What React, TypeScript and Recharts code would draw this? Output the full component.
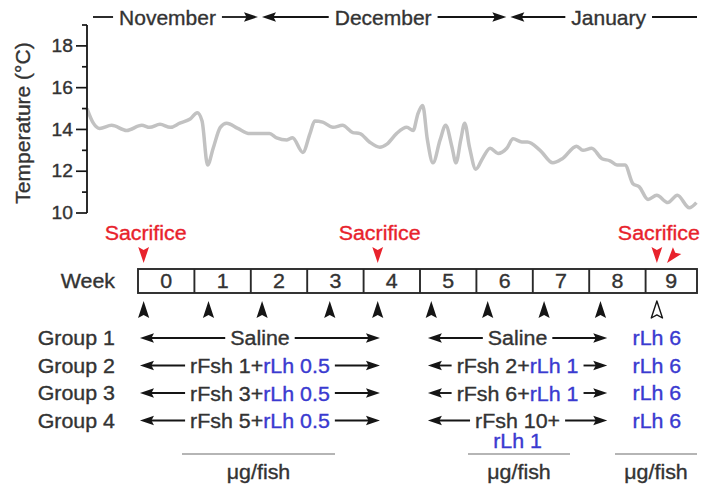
import { Line, LineChart, XAxis, YAxis } from "recharts";

// water temperature, day index from the first record
const dayNum = [
  0, 0.8, 1.6, 3.1, 5.0, 6.9, 7.9, 9.2, 10.5, 11.7, 13.0, 13.9, 14.5, 15.2, 15.9, 16.8, 17.6, 19.0,
  20.5, 23.0, 23.9, 25.2, 25.9, 27.2, 28.1, 28.7, 29.7, 31.0, 32.2, 33.5, 34.4, 35.6, 36.9, 37.8,
  39.0, 40.3, 41.1, 41.7, 42.3, 42.9, 43.6, 44.5, 45.2, 46.0, 46.5, 47.1, 47.6, 48.2, 49.0, 49.9,
  50.8, 51.8, 52.9, 53.7, 54.8, 55.5, 57.1, 58.7, 59.9, 61.7, 62.5, 63.6, 64.9, 65.9, 66.8, 67.8,
  68.8, 69.6, 70.7, 71.8, 73.2, 74.4, 75.9, 76.8,
];
const tempC = [
  15.0, 14.3, 14.05, 14.2, 13.95, 14.2, 14.1, 14.25, 14.1, 14.3, 14.5, 14.8, 14.4, 12.3, 13.1, 14.1,
  14.3, 14.05, 13.8, 13.8, 13.6, 13.5, 13.6, 12.9, 13.8, 14.4, 14.35, 14.1, 14.2, 13.85, 13.8, 13.4,
  13.15, 13.3, 13.8, 14.1, 13.95, 14.75, 15.15, 13.5, 12.4, 13.5, 14.2, 13.15, 12.4, 13.5, 14.3,
  13.15, 12.1, 12.65, 13.1, 12.85, 13.1, 13.55, 13.4, 13.4, 13.0, 12.4, 12.6, 13.2, 13.0, 13.1, 12.6,
  12.5, 12.3, 12.3, 11.4, 11.25, 10.65, 10.85, 10.5, 10.85, 10.25, 10.5,
];
const yTicks = [10, 11, 12, 13, 14, 15, 16, 17, 18, 19];

const months = ["November", "December", "January"];
const monthStartDays = [21.8, 53.1];

const weeks = [0, 1, 2, 3, 4, 5, 6, 7, 8, 9];
const injectionWeeks = [0.1, 1.25, 2.2, 3.4, 4.25, 5.2, 6.2, 7.2, 8.2, 9.2];
const sacrificeWeeks = [0.1, 4.25, 9.2];

const groups = ["Group 1", "Group 2", "Group 3", "Group 4"];
const fshFirst = [null, 1, 3, 5];
const lhFirst = [null, 0.5, 0.5, 0.5];
const fshSecond = [null, 2, 6, 10];
const lhSecond = [null, 1, 1, 1];
const lhFinal = [6, 6, 6, 6];

const data = dayNum.map((d, i) => ({ day: d, temp: tempC[i] }));

const W = 706;
const H = 486;
const PLOT_L = 87;
const PLOT_R = 698;
const PLOT_T = 25;
const PLOT_B = 213;
const DAY_MAX = 77;
const dayX = (d: number) => PLOT_L + (d / DAY_MAX) * (PLOT_R - PLOT_L);

const BOX_L = 138;
const BOX_R = 697;
const WEEK_W = 56.4;
const weekX = (w: number) => BOX_L + w * WEEK_W;

const FONT = '"Liberation Sans", Arial, Helvetica, sans-serif';
const SX = 1.07;
const INK = "#151515";
const TXT = "#333";
const RED = "#e8222c";
const BLUE = "#3a3ad0";
const GREY = "#9c9c9c";

let ctx: CanvasRenderingContext2D | null = null;
const textW = (s: string, size: number, sx = SX) => {
  if (!ctx) ctx = document.createElement("canvas").getContext("2d");
  if (!ctx) return s.length * size * 0.55;
  ctx.font = `${size}px ${FONT}`;
  return ctx.measureText(s).width * sx;
};

const Label = ({ x, y, size = 20, anchor = "middle", fill = TXT, sx = SX, children }: any) => (
  <text
    transform={`translate(${x},${y}) scale(${sx},1)`}
    textAnchor={anchor}
    dominantBaseline="central"
    fontFamily={FONT}
    fontSize={size}
    fill={fill}
    stroke={fill}
    strokeWidth={0.35}
  >
    {children}
  </text>
);

// stealth arrow head, tip at (x, y), angle 0 points right
const Head = ({ x, y, angle, len = 14, half = 4.8, fill = INK, hollow = false }: any) => (
  <path
    d={`M0,0 L${-len},${-half} L${-len * 0.82},0 L${-len},${half} Z`}
    transform={`translate(${x},${y}) rotate(${angle})`}
    fill={hollow ? "#fff" : fill}
    stroke={hollow ? fill : "none"}
    strokeWidth={hollow ? 1.4 : 0}
    strokeLinejoin="round"
  />
);

// text with arrows running out to both ends of a span
const SpanArrow = ({ x0, x1, y, tw, children }: any) => {
  const c = (x0 + x1) / 2;
  return (
    <g>
      <line x1={x0 + 8} x2={c - tw / 2 - 5} y1={y} y2={y} stroke={INK} strokeWidth={1.9} />
      <Head x={x0} y={y} angle={180} />
      <line x1={c + tw / 2 + 5} x2={x1 - 8} y1={y} y2={y} stroke={INK} strokeWidth={1.9} />
      <Head x={x1} y={y} angle={0} />
      {children(c)}
    </g>
  );
};

const TempTick = ({ x, y, payload }: any) => {
  const v = payload.value;
  const major = v % 2 === 0;
  return (
    <g>
      <line x1={x - (major ? 11 : 5)} x2={x} y1={y} y2={y} stroke={INK} strokeWidth={1.7} />
      {major && v < 19 ? (
        <Label x={x - 14} y={y} size={18} anchor="end">
          {v}
        </Label>
      ) : null}
    </g>
  );
};

const MonthHeader = () => {
  const y = 17;
  const bounds = [93, ...monthStartDays.map(dayX), 697];
  const nudge = [-8, -1, 5];
  return (
    <g>
      {months.map((m, i) => {
        const a = i === 0 ? bounds[0] : bounds[i] + 2;
        const b = i === months.length - 1 ? bounds[i + 1] : bounds[i + 1] - 2;
        const tw = textW(m, 21, 1);
        const c = (a + b) / 2 + nudge[i];
        return (
          <g key={m}>
            <line x1={i === 0 ? a : a + 8} x2={c - tw / 2 - 6} y1={y} y2={y} stroke={INK} strokeWidth={1.8} />
            <line x1={c + tw / 2 + 6} x2={i === months.length - 1 ? b : b - 8} y1={y} y2={y} stroke={INK} strokeWidth={1.8} />
            {i > 0 ? <Head x={a} y={y} angle={180} /> : null}
            {i < months.length - 1 ? <Head x={b} y={y} angle={0} /> : null}
            <Label x={c} y={y} size={21} sx={1}>
              {m}
            </Label>
          </g>
        );
      })}
    </g>
  );
};

const doseText = (fsh: number | null, lh: number | null) =>
  fsh === null ? "Saline" : `rFsh ${fsh}+rLh ${lh}`;

const Protocol = () => {
  const p1 = [weekX(0.035), weekX(4.29)];
  const p2 = [weekX(5.14), weekX(8.32)];
  const p3 = weekX(9.2);
  const rowY = (i: number) => 338 + i * 27.5;
  return (
    <g>
      {/* sacrifice points */}
      {sacrificeWeeks.map((w) => {
        const x = weekX(w);
        const tw = textW("Sacrifice", 20);
        const c = Math.min(x + 2, 704 - tw / 2);
        return (
          <g key={`s-${w}`}>
            <Label x={c} y={233} fill={RED}>
              Sacrifice
            </Label>
            <Head x={x} y={263} angle={90} len={16} half={5.4} fill={RED} />
          </g>
        );
      })}
      <Head x={weekX(9.38)} y={263} angle={129} len={16} half={5.4} fill={RED} />

      {/* week strip */}
      <Label x={115} y={281} anchor="end">
        Week
      </Label>
      <rect x={BOX_L} y={269} width={BOX_R - BOX_L} height={24} fill="#fff" stroke="#2a2a2a" strokeWidth={1.9} />
      {weeks.slice(1).map((w) => (
        <line key={`d-${w}`} x1={weekX(w)} x2={weekX(w)} y1={269} y2={293} stroke="#2a2a2a" strokeWidth={1.9} />
      ))}
      {weeks.map((w) => (
        <Label key={`w-${w}`} x={(weekX(w) + Math.min(weekX(w + 1), BOX_R)) / 2} y={281}>
          {w}
        </Label>
      ))}

      {/* injections */}
      {injectionWeeks.map((w, i) => (
        <Head
          key={`i-${w}`}
          x={weekX(w)}
          y={301}
          angle={-90}
          len={17}
          half={5.6}
          hollow={i === injectionWeeks.length - 1}
        />
      ))}

      {/* treatment rows */}
      {groups.map((g, i) => {
        const y = rowY(i);
        const t1 = doseText(fshFirst[i], lhFirst[i]);
        const t2 = doseText(fshSecond[i], lhSecond[i]);
        const fshOnly2 = fshSecond[i] === null ? "Saline" : `rFsh ${fshSecond[i]}+`;
        const wrap2 = textW(t2, 20) > p2[1] - p2[0] - 50;
        return (
          <g key={g}>
            <Label x={115} y={y} anchor="end">
              {g}
            </Label>
            <SpanArrow x0={p1[0]} x1={p1[1]} y={y} tw={textW(t1, 20)}>
              {(c: number) => (
                <Label x={c} y={y}>
                  {fshFirst[i] === null ? (
                    "Saline"
                  ) : (
                    <>
                      <tspan>{`rFsh ${fshFirst[i]}+`}</tspan>
                      <tspan fill={BLUE} stroke={BLUE}>{`rLh ${lhFirst[i]}`}</tspan>
                    </>
                  )}
                </Label>
              )}
            </SpanArrow>
            <SpanArrow x0={p2[0]} x1={p2[1]} y={y} tw={textW(wrap2 ? fshOnly2 : t2, 20)}>
              {(c: number) =>
                fshSecond[i] === null ? (
                  <Label x={c} y={y}>
                    Saline
                  </Label>
                ) : wrap2 ? (
                  <g>
                    <Label x={c} y={y}>
                      {fshOnly2}
                    </Label>
                    <Label x={c} y={y + 20} fill={BLUE}>{`rLh ${lhSecond[i]}`}</Label>
                  </g>
                ) : (
                  <Label x={c} y={y}>
                    <tspan>{`rFsh ${fshSecond[i]}+`}</tspan>
                    <tspan fill={BLUE} stroke={BLUE}>{`rLh ${lhSecond[i]}`}</tspan>
                  </Label>
                )
              }
            </SpanArrow>
            <Label x={p3} y={y} fill={BLUE}>{`rLh ${lhFinal[i]}`}</Label>
          </g>
        );
      })}

      {/* dose units */}
      {[
        [182, 335],
        [468, 570],
        [615, 697],
      ].map(([a, b]) => (
        <g key={`u-${a}`}>
          <line x1={a} x2={b} y1={454} y2={454} stroke={GREY} strokeWidth={1.6} />
          <Label x={(a + b) / 2} y={472}>
            μg/fish
          </Label>
        </g>
      ))}
    </g>
  );
};

export default function App() {
  return (
    <div style={{ position: "absolute", left: 0, top: 0, width: W, height: H, background: "#fff" }}>
      <LineChart
        width={W}
        height={H}
        data={data}
        margin={{ top: PLOT_T, right: W - PLOT_R, bottom: H - PLOT_B, left: 0 }}
      >
        <XAxis dataKey="day" type="number" domain={[0, DAY_MAX]} hide />
        <YAxis
          type="number"
          domain={[10, 19]}
          ticks={yTicks}
          interval={0}
          width={PLOT_L}
          tickSize={0}
          tickMargin={0}
          tickLine={false}
          tick={<TempTick />}
          axisLine={{ stroke: INK, strokeWidth: 1.8 }}
        />
        <Line
          dataKey="temp"
          type="monotone"
          stroke="#c2c2c2"
          strokeWidth={3.5}
          dot={false}
          isAnimationActive={false}
        />
      </LineChart>
      <svg
        width={W}
        height={H}
        style={{ position: "absolute", left: 0, top: 0, pointerEvents: "none" }}
      >
        <text
          transform="translate(22,123) rotate(-90)"
          textAnchor="middle"
          dominantBaseline="central"
          fontFamily={FONT}
          fontSize={21}
          fill={TXT}
          stroke={TXT}
          strokeWidth={0.35}
        >
          Temperature (°C)
        </text>
        <MonthHeader />
        <Protocol />
      </svg>
    </div>
  );
}
